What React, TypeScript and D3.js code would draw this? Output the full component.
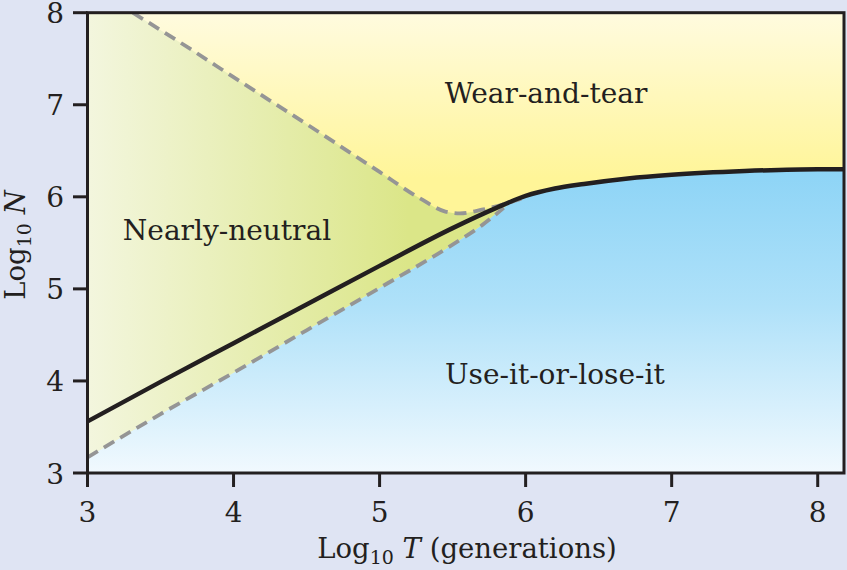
import * as d3 from "d3";

// black boundary between use-it-or-lose-it and the rest
const boundaryT = [3.0, 3.5, 4.0, 4.5, 5.0, 5.5, 5.8, 6.0, 6.2, 6.4, 6.7, 7.0, 7.5, 8.0, 8.18];
const boundaryN = [3.56, 3.99, 4.41, 4.83, 5.25, 5.66, 5.88, 6.01, 6.09, 6.14, 6.2, 6.24, 6.28, 6.3, 6.3];

// upper dashed edge of nearly-neutral
const upperT = [3.31, 3.72, 4.0, 4.5, 5.0, 5.28, 5.45, 5.55, 5.7, 5.85, 5.97];
const upperN = [8.0, 7.59, 7.3, 6.79, 6.27, 5.98, 5.84, 5.82, 5.86, 5.92, 5.98];

// lower dashed edge of nearly-neutral
const lowerT = [3.0, 3.5, 4.0, 4.5, 5.0, 5.5, 5.7, 5.85];
const lowerN = [3.17, 3.64, 4.09, 4.55, 5.01, 5.48, 5.69, 5.88];

const xTicks = [3, 4, 5, 6, 7, 8];
const yTicks = [3, 4, 5, 6, 7, 8];

const font = "'DejaVu Serif', serif";
const ink = "#231f20";

export default function App() {
  const x = d3.scaleLinear().domain([3, 8.18]).range([87.5, 844]);
  const y = d3.scaleLinear().domain([3, 8]).range([473, 12.7]);

  const zip = (a: number[], b: number[]) => a.map((t, i) => [t, b[i]] as [number, number]);
  const boundary = zip(boundaryT, boundaryN);
  const upper = zip(upperT, upperN);
  const lower = zip(lowerT, lowerN);

  const line = d3
    .line<[number, number]>()
    .x((d) => x(d[0]))
    .y((d) => y(d[1]))
    .curve(d3.curveMonotoneX);

  // blue area: lower dashed then black line
  const blueTop = lower.concat(boundary.filter((d) => d[0] > 5.85));
  const area = d3
    .area<[number, number]>()
    .x((d) => x(d[0]))
    .y0(y(3))
    .y1((d) => y(d[1]))
    .curve(d3.curveMonotoneX);

  const greenPath =
    `M${x(3)},${y(8)}` +
    (line(upper) as string).replace("M", "L") +
    (line(lower.slice().reverse()) as string).replace("M", "L") +
    "Z";

  return (
    <svg width={847} height={570} style={{ position: "absolute", left: 0, top: 0 }}>
      <defs>
        <linearGradient id="yel" gradientUnits="userSpaceOnUse" x1="0" y1={y(8)} x2="0" y2={y(6.2)}>
          <stop offset="0" stopColor="#fffbdf" />
          <stop offset="1" stopColor="#fff598" />
        </linearGradient>
        <linearGradient id="grn" gradientUnits="userSpaceOnUse" x1={x(3)} y1="0" x2={x(5.2)} y2="0">
          <stop offset="0" stopColor="#f3f6de" />
          <stop offset="1" stopColor="#dbe688" />
        </linearGradient>
        <linearGradient id="blu" gradientUnits="userSpaceOnUse" x1="0" y1={y(6.3)} x2="0" y2={y(3)}>
          <stop offset="0" stopColor="#8dd4f6" />
          <stop offset="0.45" stopColor="#afe1f9" />
          <stop offset="1" stopColor="#f1f9fe" />
        </linearGradient>
        <clipPath id="plot">
          <rect x={x(3)} y={y(8)} width={x(8.18) - x(3)} height={y(3) - y(8)} />
        </clipPath>
      </defs>

      <rect width={847} height={570} fill="#dfe4f3" />

      <g clipPath="url(#plot)">
        <rect x={x(3)} y={y(8)} width={x(8.18) - x(3)} height={y(3) - y(8)} fill="url(#yel)" />
        <path d={greenPath} fill="url(#grn)" />
        <path d={area(blueTop) as string} fill="url(#blu)" />
        <path d={line(upper) as string} fill="none" stroke="#959595" strokeWidth={3.8} strokeDasharray="12 7" />
        <path d={line(lower) as string} fill="none" stroke="#959595" strokeWidth={3.8} strokeDasharray="12 7" />
        <path d={line(boundary) as string} fill="none" stroke={ink} strokeWidth={4.5} />
      </g>

      {/* frame */}
      <rect
        x={x(3)}
        y={y(8)}
        width={x(8.18) - x(3)}
        height={y(3) - y(8)}
        fill="none"
        stroke={ink}
        strokeWidth={3}
      />

      {yTicks.map((d) => (
        <g key={"y" + d}>
          <line x1={73} x2={x(3)} y1={y(d)} y2={y(d)} stroke={ink} strokeWidth={3} />
          <text x={64} y={y(d) + 10.5} fontFamily={font} fontSize={28} fill={ink} textAnchor="end">
            {d}
          </text>
        </g>
      ))}
      {xTicks.map((d) => (
        <g key={"x" + d}>
          <line x1={x(d)} x2={x(d)} y1={y(3)} y2={487} stroke={ink} strokeWidth={3} />
          <text x={x(d)} y={522} fontFamily={font} fontSize={28} fill={ink} textAnchor="middle">
            {d}
          </text>
        </g>
      ))}

      <text x={467} y={558} fontFamily={font} fontSize={27.5} fill={ink} textAnchor="middle">
        Log
        <tspan fontSize={19} dy={6}>10</tspan>
        <tspan dy={-6}> </tspan>
        <tspan fontStyle="italic">T</tspan> (generations)
      </text>
      <text
        transform="translate(25,245) rotate(-90)"
        fontFamily={font}
        fontSize={27.5}
        fill={ink}
        textAnchor="middle"
      >
        Log
        <tspan fontSize={19} dy={6}>10</tspan>
        <tspan dy={-6}> </tspan>
        <tspan fontStyle="italic">N</tspan>
      </text>

      <text x={x(6.14)} y={y(7.02)} fontFamily={font} fontSize={28} fill={ink} textAnchor="middle">
        Wear-and-tear
      </text>
      <text x={x(3.955)} y={y(5.53)} fontFamily={font} fontSize={28} fill={ink} textAnchor="middle">
        Nearly-neutral
      </text>
      <text x={x(6.2)} y={y(3.97)} fontFamily={font} fontSize={28} fill={ink} textAnchor="middle">
        Use-it-or-lose-it
      </text>
    </svg>
  );
}
